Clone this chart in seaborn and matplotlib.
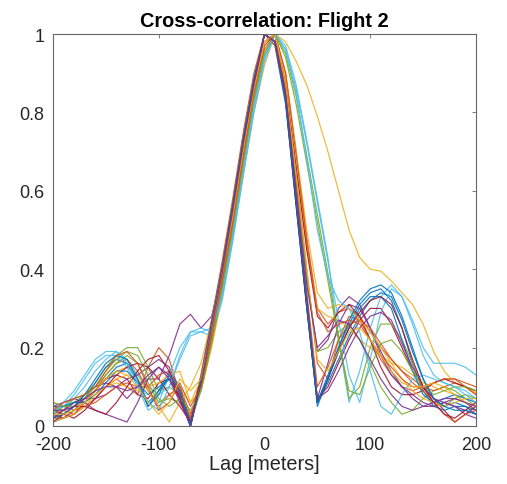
import numpy as np
import pandas as pd
import matplotlib
matplotlib.use("Agg")
import matplotlib.pyplot as plt
import seaborn as sns

# lag axis (meters), one value every 10 m
lags = list(range(-200, 201, 10))

# cross-correlation curves (one list per segment)
c00 = [0.03, 0.04, 0.06, 0.07, 0.09, 0.12, 0.15, 0.16, 0.12, 0.06, 0.09, 0.12, 0.07, 0.00, 0.11, 0.24, 0.38, 0.53, 0.70, 0.86, 0.98,
       1.00, 0.85, 0.58, 0.32, 0.06, 0.11, 0.17, 0.23, 0.28, 0.32, 0.34, 0.33, 0.27, 0.19, 0.12, 0.07, 0.05, 0.06, 0.05, 0.04]
c01 = [0.05, 0.04, 0.03, 0.05, 0.07, 0.10, 0.12, 0.10, 0.08, 0.15, 0.20, 0.17, 0.08, 0.01, 0.12, 0.26, 0.40, 0.55, 0.72, 0.88, 1.00,
       0.98, 0.86, 0.64, 0.40, 0.16, 0.12, 0.22, 0.28, 0.27, 0.22, 0.17, 0.13, 0.10, 0.09, 0.10, 0.11, 0.12, 0.12, 0.10, 0.08]
c02 = [0.03, 0.04, 0.06, 0.07, 0.09, 0.12, 0.14, 0.15, 0.13, 0.09, 0.06, 0.08, 0.10, 0.06, 0.09, 0.20, 0.33, 0.48, 0.64, 0.80, 0.92,
       1.00, 0.98, 0.93, 0.87, 0.79, 0.70, 0.60, 0.50, 0.43, 0.40, 0.395, 0.37, 0.34, 0.31, 0.26, 0.19, 0.14, 0.11, 0.10, 0.085]
c03 = [0.02, 0.03, 0.05, 0.08, 0.10, 0.11, 0.10, 0.07, 0.10, 0.12, 0.12, 0.18, 0.26, 0.285, 0.25, 0.28, 0.39, 0.53, 0.70, 0.86, 0.98,
       1.00, 0.86, 0.62, 0.38, 0.19, 0.22, 0.30, 0.33, 0.31, 0.25, 0.18, 0.13, 0.10, 0.08, 0.06, 0.05, 0.06, 0.07, 0.06, 0.04]
c04 = [0.04, 0.05, 0.06, 0.08, 0.11, 0.15, 0.18, 0.20, 0.20, 0.15, 0.09, 0.10, 0.08, 0.02, 0.10, 0.23, 0.37, 0.52, 0.69, 0.85, 0.97,
       1.00, 0.87, 0.63, 0.38, 0.19, 0.20, 0.24, 0.26, 0.22, 0.16, 0.10, 0.06, 0.03, 0.04, 0.07, 0.09, 0.10, 0.09, 0.07, 0.05]
c05 = [0.02, 0.04, 0.07, 0.10, 0.14, 0.17, 0.19, 0.17, 0.13, 0.10, 0.08, 0.10, 0.17, 0.23, 0.24, 0.23, 0.32, 0.47, 0.64, 0.80, 0.93,
       1.00, 0.97, 0.87, 0.73, 0.58, 0.43, 0.22, 0.06, 0.14, 0.25, 0.33, 0.36, 0.33, 0.27, 0.20, 0.16, 0.16, 0.16, 0.15, 0.13]
c06 = [0.03, 0.02, 0.03, 0.06, 0.09, 0.12, 0.13, 0.12, 0.08, 0.07, 0.11, 0.12, 0.07, 0.00, 0.12, 0.26, 0.41, 0.56, 0.73, 0.88, 1.00,
       0.98, 0.84, 0.57, 0.31, 0.07, 0.10, 0.16, 0.22, 0.27, 0.30, 0.30, 0.26, 0.20, 0.14, 0.10, 0.07, 0.04, 0.01, 0.03, 0.05]
c07 = [0.01, 0.02, 0.04, 0.07, 0.11, 0.15, 0.17, 0.16, 0.11, 0.05, 0.09, 0.14, 0.10, 0.01, 0.13, 0.27, 0.41, 0.57, 0.74, 0.89, 1.00,
       0.97, 0.82, 0.56, 0.30, 0.06, 0.13, 0.20, 0.26, 0.31, 0.34, 0.35, 0.32, 0.25, 0.16, 0.09, 0.05, 0.04, 0.05, 0.05, 0.03]
c08 = [0.06, 0.05, 0.04, 0.06, 0.09, 0.13, 0.16, 0.17, 0.14, 0.09, 0.05, 0.08, 0.10, 0.03, 0.10, 0.22, 0.36, 0.51, 0.68, 0.84, 0.96,
       1.00, 0.90, 0.70, 0.48, 0.30, 0.26, 0.29, 0.30, 0.28, 0.24, 0.20, 0.17, 0.14, 0.12, 0.10, 0.09, 0.10, 0.11, 0.10, 0.08]
c09 = [0.02, 0.03, 0.05, 0.06, 0.08, 0.10, 0.12, 0.13, 0.12, 0.09, 0.05, 0.01, 0.06, 0.10, 0.16, 0.27, 0.40, 0.55, 0.72, 0.87, 0.98,
       1.00, 0.88, 0.66, 0.45, 0.30, 0.28, 0.27, 0.25, 0.22, 0.20, 0.18, 0.16, 0.15, 0.13, 0.11, 0.10, 0.09, 0.08, 0.06, 0.05]
c10 = [0.02, 0.04, 0.06, 0.07, 0.07, 0.08, 0.10, 0.12, 0.13, 0.15, 0.17, 0.15, 0.08, 0.00, 0.11, 0.25, 0.40, 0.55, 0.72, 0.87, 1.00,
       0.98, 0.84, 0.57, 0.31, 0.07, 0.16, 0.26, 0.31, 0.30, 0.25, 0.19, 0.14, 0.10, 0.07, 0.05, 0.05, 0.06, 0.05, 0.03, 0.02]
c11 = [0.03, 0.05, 0.07, 0.08, 0.10, 0.13, 0.16, 0.18, 0.16, 0.11, 0.06, 0.07, 0.06, 0.01, 0.09, 0.21, 0.35, 0.50, 0.67, 0.83, 0.95,
       1.00, 0.95, 0.84, 0.69, 0.54, 0.39, 0.23, 0.07, 0.10, 0.20, 0.26, 0.26, 0.22, 0.16, 0.10, 0.06, 0.05, 0.07, 0.08, 0.07]
c12 = [0.04, 0.05, 0.08, 0.12, 0.16, 0.18, 0.18, 0.15, 0.10, 0.04, 0.06, 0.13, 0.20, 0.24, 0.24, 0.25, 0.34, 0.49, 0.66, 0.82, 0.94,
       1.00, 0.96, 0.86, 0.72, 0.57, 0.42, 0.27, 0.13, 0.06, 0.17, 0.29, 0.35, 0.33, 0.26, 0.18, 0.13, 0.11, 0.10, 0.09, 0.07]
c13 = [0.04, 0.03, 0.02, 0.04, 0.07, 0.10, 0.13, 0.15, 0.16, 0.15, 0.12, 0.08, 0.05, 0.01, 0.12, 0.25, 0.39, 0.55, 0.71, 0.86, 0.98,
       1.00, 0.87, 0.66, 0.45, 0.28, 0.25, 0.29, 0.31, 0.28, 0.22, 0.15, 0.10, 0.08, 0.08, 0.09, 0.11, 0.12, 0.11, 0.10, 0.09]
c14 = [0.05, 0.05, 0.06, 0.06, 0.08, 0.11, 0.14, 0.14, 0.11, 0.08, 0.10, 0.12, 0.09, 0.01, 0.11, 0.24, 0.38, 0.54, 0.71, 0.87, 1.00,
       0.98, 0.83, 0.57, 0.31, 0.05, 0.12, 0.19, 0.25, 0.30, 0.33, 0.33, 0.30, 0.22, 0.14, 0.08, 0.06, 0.07, 0.08, 0.07, 0.06]
c15 = [0.02, 0.02, 0.04, 0.05, 0.06, 0.08, 0.10, 0.11, 0.10, 0.10, 0.13, 0.14, 0.09, 0.02, 0.13, 0.27, 0.42, 0.58, 0.75, 0.90, 1.00,
       0.97, 0.83, 0.59, 0.34, 0.10, 0.15, 0.22, 0.26, 0.27, 0.25, 0.21, 0.17, 0.14, 0.11, 0.09, 0.06, 0.03, 0.01, 0.03, 0.04]
c16 = [0.01, 0.02, 0.03, 0.05, 0.08, 0.10, 0.11, 0.10, 0.09, 0.10, 0.11, 0.13, 0.14, 0.06, 0.12, 0.24, 0.38, 0.53, 0.70, 0.86, 0.98,
       1.00, 0.89, 0.70, 0.50, 0.34, 0.30, 0.31, 0.30, 0.27, 0.24, 0.20, 0.16, 0.12, 0.09, 0.07, 0.06, 0.05, 0.06, 0.07, 0.07]
c17 = [0.05, 0.06, 0.07, 0.06, 0.04, 0.03, 0.02, 0.01, 0.06, 0.12, 0.15, 0.13, 0.07, 0.00, 0.11, 0.25, 0.39, 0.55, 0.72, 0.87, 1.00,
       0.98, 0.84, 0.58, 0.33, 0.07, 0.09, 0.14, 0.20, 0.25, 0.28, 0.29, 0.27, 0.21, 0.15, 0.10, 0.07, 0.06, 0.05, 0.04, 0.03]
c18 = [0.06, 0.05, 0.05, 0.07, 0.10, 0.14, 0.17, 0.19, 0.18, 0.13, 0.07, 0.05, 0.07, 0.04, 0.09, 0.21, 0.35, 0.50, 0.67, 0.83, 0.95,
       1.00, 0.94, 0.82, 0.67, 0.52, 0.37, 0.22, 0.09, 0.08, 0.15, 0.21, 0.22, 0.19, 0.14, 0.10, 0.08, 0.09, 0.10, 0.10, 0.09]
c19 = [0.03, 0.06, 0.09, 0.13, 0.17, 0.19, 0.19, 0.16, 0.11, 0.06, 0.04, 0.10, 0.18, 0.24, 0.25, 0.24, 0.33, 0.48, 0.65, 0.81, 0.94,
       1.00, 0.96, 0.85, 0.68, 0.50, 0.38, 0.32, 0.30, 0.24, 0.14, 0.05, 0.03, 0.08, 0.12, 0.13, 0.12, 0.11, 0.10, 0.08, 0.06]
c20 = [0.01, 0.03, 0.05, 0.05, 0.04, 0.03, 0.06, 0.10, 0.14, 0.17, 0.18, 0.14, 0.07, 0.00, 0.12, 0.26, 0.40, 0.56, 0.73, 0.88, 1.00,
       0.98, 0.83, 0.56, 0.30, 0.06, 0.12, 0.19, 0.25, 0.29, 0.32, 0.33, 0.31, 0.25, 0.17, 0.10, 0.06, 0.03, 0.02, 0.04, 0.06]
c21 = [0.02, 0.03, 0.05, 0.08, 0.12, 0.16, 0.18, 0.17, 0.12, 0.05, 0.08, 0.13, 0.09, 0.00, 0.12, 0.26, 0.40, 0.56, 0.73, 0.88, 1.00,
       0.98, 0.83, 0.57, 0.31, 0.06, 0.12, 0.20, 0.27, 0.32, 0.35, 0.36, 0.34, 0.28, 0.20, 0.12, 0.07, 0.05, 0.04, 0.04, 0.03]
c22 = [0.04, 0.06, 0.07, 0.08, 0.10, 0.14, 0.18, 0.19, 0.16, 0.10, 0.04, 0.06, 0.11, 0.05, 0.10, 0.23, 0.37, 0.52, 0.69, 0.85, 0.97,
       1.00, 0.90, 0.69, 0.47, 0.29, 0.24, 0.26, 0.27, 0.26, 0.22, 0.18, 0.15, 0.12, 0.10, 0.10, 0.11, 0.12, 0.12, 0.11, 0.10]
c23 = [0.03, 0.03, 0.04, 0.06, 0.09, 0.12, 0.14, 0.13, 0.10, 0.06, 0.03, 0.06, 0.12, 0.09, 0.12, 0.25, 0.39, 0.54, 0.71, 0.86, 0.98,
       1.00, 0.87, 0.64, 0.40, 0.17, 0.14, 0.19, 0.24, 0.25, 0.22, 0.18, 0.14, 0.11, 0.10, 0.10, 0.11, 0.10, 0.08, 0.06, 0.05]
c24 = [0.04, 0.04, 0.05, 0.07, 0.09, 0.10, 0.10, 0.09, 0.10, 0.13, 0.15, 0.12, 0.06, 0.01, 0.11, 0.25, 0.39, 0.55, 0.72, 0.87, 1.00,
       0.98, 0.85, 0.60, 0.36, 0.20, 0.23, 0.27, 0.26, 0.22, 0.17, 0.12, 0.08, 0.05, 0.04, 0.05, 0.06, 0.07, 0.07, 0.06, 0.05]

curves = [c00, c01, c02, c03, c04, c05, c06, c07, c08, c09, c10, c11, c12,
          c13, c14, c15, c16, c17, c18, c19, c20, c21, c22, c23, c24]

# couleurs par defaut de MATLAB
matlab_colors = ["#0072BD", "#D95319", "#EDB120", "#7E2F8E", "#77AC30", "#4DBEEE", "#A2142F"]

rows = []
for k, vals in enumerate(curves):
    for lag, v in zip(lags, vals):
        rows.append({"lag": lag, "corr": v, "segment": f"s{k}"})
df = pd.DataFrame(rows)

sns.set_style("white")
plt.rcParams["font.family"] = ["Liberation Sans", "DejaVu Sans"]
plt.rcParams["axes.unicode_minus"] = False

fig = plt.figure(figsize=(5.07, 4.85), dpi=100)
ax = fig.add_axes([0.1045, 0.1196, 0.8343, 0.8082])

palette = [matlab_colors[k % 7] for k in range(len(curves))]
sns.lineplot(data=df, x="lag", y="corr", hue="segment", palette=palette,
             linewidth=0.85, alpha=0.9, legend=False, ax=ax, estimator=None, sort=False)

ax.set_xlim(-200, 200)
ax.set_ylim(0, 1)
ax.set_xticks([-200, -100, 0, 100, 200])
ax.set_yticks([0, 0.2, 0.4, 0.6, 0.8, 1])
ax.set_yticklabels(["0", "0.2", "0.4", "0.6", "0.8", "1"])

axis_col = "#262626"
for sp in ax.spines.values():
    sp.set_color("#666666")
    sp.set_linewidth(0.8)
ax.tick_params(direction="in", length=3, width=0.6, colors="#666666",
               labelcolor=axis_col, labelsize=13, top=True, right=True)
ax.tick_params(axis="x", pad=7)
ax.tick_params(axis="y", pad=6)

ax.set_xlabel("Lag [meters]", fontsize=14.3, color=axis_col, labelpad=1)
ax.set_ylabel("")
ax.set_title("Cross-correlation: Flight 2", fontsize=14.3, fontweight="bold",
             color="black", pad=6)

fig.savefig("out.png", dpi=100)
